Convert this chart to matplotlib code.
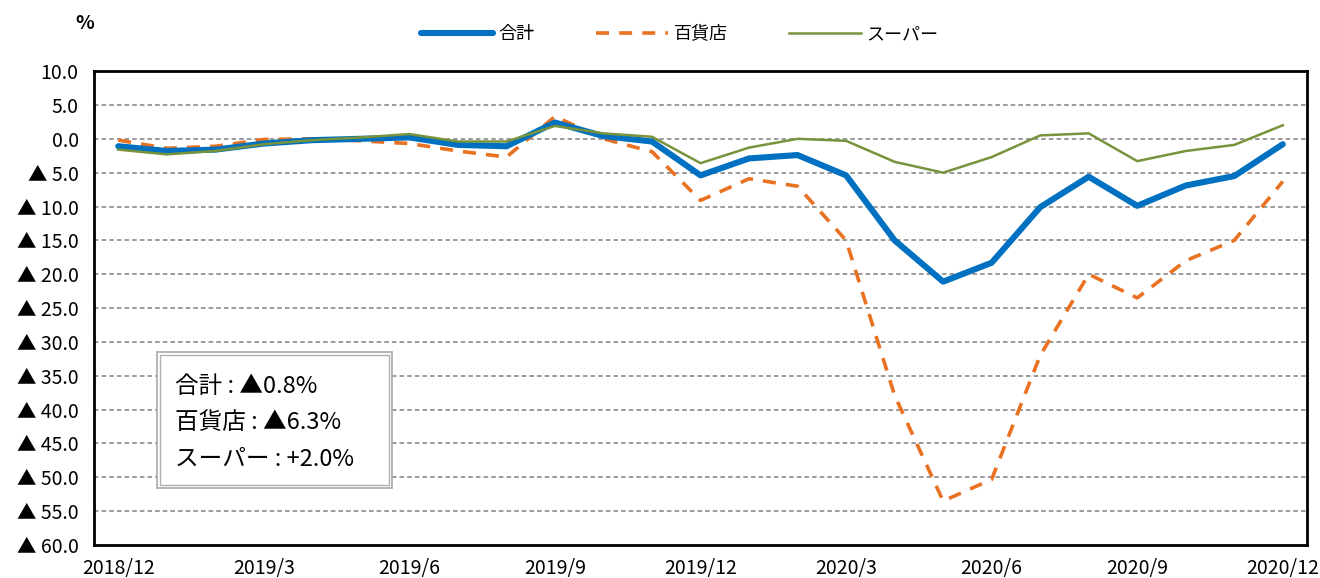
import matplotlib.pyplot as plt
from matplotlib.patches import Rectangle
from matplotlib.ticker import FuncFormatter

plt.rcParams['font.family'] = ['Noto Sans CJK JP', 'DejaVu Sans']

# Data (monthly, 2018/12 - 2020/12), year-on-year change %
months = ['2018/12', '2019/1', '2019/2', '2019/3', '2019/4', '2019/5', '2019/6',
          '2019/7', '2019/8', '2019/9', '2019/10', '2019/11', '2019/12',
          '2020/1', '2020/2', '2020/3', '2020/4', '2020/5', '2020/6',
          '2020/7', '2020/8', '2020/9', '2020/10', '2020/11', '2020/12']
total = [-1.1, -1.8, -1.6, -0.7, -0.2, 0.0, 0.2, -0.9, -1.1, 2.4, 0.4, -0.4,
         -5.4, -2.9, -2.4, -5.4, -15.0, -21.1, -18.3, -10.1, -5.6, -9.9, -6.9, -5.5, -0.8]
dept = [-0.2, -1.4, -1.1, -0.1, 0.0, -0.3, -0.7, -1.8, -2.7, 3.3, 0.0, -1.9,
        -9.1, -5.9, -7.0, -15.0, -37.9, -53.5, -50.3, -32.0, -20.0, -23.5, -18.0, -15.0, -6.3]
super_ = [-1.6, -2.3, -1.8, -0.8, -0.2, 0.2, 0.7, -0.4, -0.4, 1.9, 0.8, 0.3,
          -3.6, -1.3, 0.0, -0.3, -3.4, -5.0, -2.7, 0.5, 0.8, -3.3, -1.8, -0.9, 2.0]
labels = ['合計', '百貨店', 'スーパー']
note = '合計 : ▲0.8%\n百貨店 : ▲6.3%\nスーパー : +2.0%'

fig = plt.figure(figsize=(13.2, 5.78), dpi=100)
ax = fig.add_axes([0.0712, 0.057, 0.919, 0.820])

x = range(len(months))
ax.plot(x, total, color='#0070C0', lw=4.4, label=labels[0], solid_capstyle='round', zorder=4)
ax.plot(x, dept, color='#E97222', lw=2.6, ls=(0, (3.6, 2.8)), label=labels[1], zorder=3)
ax.plot(x, super_, color='#77933C', lw=1.8, label=labels[2], zorder=5)

ax.set_xlim(-0.5, len(months) - 0.5)
ax.set_ylim(-60, 10)
ax.set_yticks(range(-60, 11, 5))
ax.yaxis.set_major_formatter(FuncFormatter(
    lambda v, p: f'{v:.1f}' if v >= 0 else f'▲ {abs(v):.1f}'))
ax.set_xticks(list(range(0, len(months), 3)))
ax.set_xticklabels(months[::3])
ax.tick_params(axis='both', length=0, labelsize=14)
ax.tick_params(axis='x', pad=9)
ax.tick_params(axis='y', pad=11)

for v in range(-55, 10, 5):
    ax.axhline(v, color='#808080', lw=1.1, ls=(0, (3, 2)), zorder=1)

for s in ax.spines.values():
    s.set_linewidth(2)
    s.set_color('black')

fig.text(0.064, 0.96, '%', fontsize=14, fontweight='bold', ha='center', va='center')

fig.legend(loc='upper center', bbox_to_anchor=(0.515, 0.985), ncol=3,
           frameon=False, fontsize=13, handlelength=4.0, columnspacing=3.4,
           handletextpad=0.3)

# text box with double grey border
ax.add_patch(Rectangle((0.052, 0.120), 0.194, 0.287, transform=ax.transAxes,
                       fc='white', ec='#B0B0B0', lw=1.3, zorder=6))
ax.add_patch(Rectangle((0.0545, 0.1265), 0.189, 0.274, transform=ax.transAxes,
                       fc='white', ec='#B0B0B0', lw=1.0, zorder=6))
ax.text(0.0668, 0.258, note, transform=ax.transAxes, fontsize=17,
        va='center', ha='left', linespacing=1.72, zorder=7)

fig.savefig('out.png', dpi=100)
